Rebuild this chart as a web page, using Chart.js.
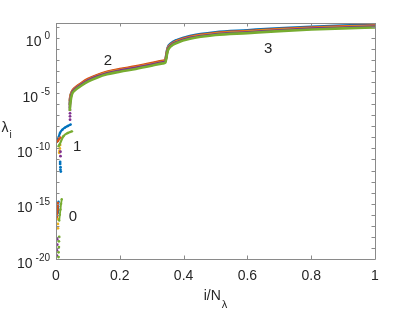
<!DOCTYPE html>
<html>
<head>
<meta charset="utf-8">
<script src="https://cdn.jsdelivr.net/npm/chart.js@4.4.1/dist/chart.umd.min.js"></script>
<style>
  html, body { margin: 0; background: #fff; }
  canvas { display: block; }
</style>
</head>
<body>
<canvas id="eig-chart" width="415" height="312"></canvas>
<script>
// sorted eigenvalues, 5 runs (matlab default colours)
const curveX = [0.043, 0.045, 0.05, 0.06, 0.08, 0.1, 0.13, 0.16, 0.2, 0.25, 0.3, 0.335, 0.343, 0.346, 0.35, 0.36, 0.38, 0.42, 0.5, 0.6, 0.7, 0.8, 0.9, 1.0];
const blueCurve   = [8.9e-7, 4.5e-6, 1.26e-5, 2.8e-5, 7.4e-5, 1.7e-4, 4.0e-4, 7.6e-4, 1.32e-3, 2.34e-3, 4.6e-3, 7.4e-3, 8.9e-3, 3.3e-2, 0.123, 0.31, 0.66, 1.48, 3.2, 4.9, 7.4, 10.2, 13.2, 15.8];
const orangeCurve = [2.0e-6, 5.0e-6, 1.41e-5, 3.16e-5, 8.3e-5, 1.9e-4, 4.5e-4, 8.5e-4, 1.48e-3, 2.63e-3, 5.2e-3, 8.3e-3, 1.0e-2, 2.75e-2, 0.103, 0.257, 0.55, 1.24, 2.7, 4.07, 6.17, 8.5, 11.0, 13.2];
const yellowCurve = [7.9e-7, 4.0e-6, 1.12e-5, 2.5e-5, 6.6e-5, 1.51e-4, 3.55e-4, 6.8e-4, 1.17e-3, 2.1e-3, 4.0e-3, 6.6e-3, 8.0e-3, 2.4e-2, 0.09, 0.224, 0.48, 1.08, 2.34, 3.55, 5.37, 7.4, 9.55, 11.5];
const purpleCurve = [4.0e-7, 2.5e-6, 1.05e-5, 2.34e-5, 6.2e-5, 1.41e-4, 3.3e-4, 6.3e-4, 1.1e-3, 1.95e-3, 3.8e-3, 6.1e-3, 7.4e-3, 2.2e-2, 0.082, 0.205, 0.436, 0.99, 2.14, 3.24, 4.9, 6.76, 8.7, 10.5];
const greenCurve  = [2.5e-7, 1.26e-6, 7.6e-6, 1.86e-5, 4.9e-5, 1.12e-4, 2.63e-4, 5.0e-4, 8.7e-4, 1.55e-3, 3.0e-3, 4.9e-3, 5.8e-3, 1.58e-2, 0.063, 0.17, 0.363, 0.82, 1.78, 2.69, 4.07, 5.62, 7.24, 8.7];

// group 1
const blueG1X = [0.004, 0.008, 0.0125, 0.02, 0.028, 0.037, 0.046];
const blueG1Y = [4.5e-10, 1e-9, 2.5e-9, 5e-9, 7.6e-9, 1.07e-8, 1.45e-8];
const orangeG1X = [0.003, 0.006, 0.01, 0.014];
const orangeG1Y = [4e-10, 5e-10, 7e-10, 1e-9];
const greenG1X = [0.008, 0.011, 0.023, 0.037, 0.05];
const greenG1Y = [1.6e-10, 2.2e-10, 1.26e-9, 2.5e-9, 3.5e-9];
const yellowG1X = [0.01, 0.011, 0.012, 0.013];
const yellowG1Y = [4e-11, 6e-11, 1e-10, 2e-10];
const purpleG1X = [0.014, 0.014];
const purpleG1Y = [2e-11, 5e-11];
const blueDotsX = [0.013, 0.013, 0.014, 0.014, 0.015];
const blueDotsY = [6e-12, 4e-12, 2e-12, 1.2e-12, 8e-13];

// group 0
const orangeG0X = [0.006, 0.005, 0.005, 0.004, 0.004, 0.003];
const orangeG0Y = [1.2e-15, 6e-16, 3e-16, 1.5e-16, 8e-17, 4e-17];
const greenG0X = [0.018, 0.016, 0.014, 0.012, 0.01];
const greenG0Y = [2.5e-15, 1e-15, 3e-16, 1e-16, 3e-17];
const blueG0X = [0.008, 0.007, 0.007, 0.006];
const blueG0Y = [1.5e-15, 6e-16, 2.5e-16, 1.5e-16];
const yellowG0X = [0.007, 0.006, 0.006];
const yellowG0Y = [4e-17, 1.5e-17, 6e-18];
const purpleG0X = [0.004, 0.004, 0.003, 0.003];
const purpleG0Y = [6e-19, 2e-19, 6e-20, 2e-20];
const greenLowX = [0.01, 0.009, 0.009, 0.008, 0.008];
const greenLowY = [1e-18, 4e-19, 1.2e-19, 4e-20, 1.5e-20];
const purpleTailX = [0.044, 0.044, 0.044, 0.044];
const purpleTailY = [3e-7, 1.5e-7, 8e-8, 4e-8];

const xTicks = [0, 0.2, 0.4, 0.6, 0.8, 1];
const xTickLabels = ["0", "0.2", "0.4", "0.6", "0.8", "1"];
const yDecades = [1e-20, 1e-19, 1e-18, 1e-17, 1e-16, 1e-15, 1e-14, 1e-13, 1e-12, 1e-11, 1e-10, 1e-9, 1e-8, 1e-7, 1e-6, 1e-5, 1e-4, 1e-3, 1e-2, 1e-1, 1, 10];
const yLabelValues = [1e-20, 1e-15, 1e-10, 1e-5, 1];
const yLabelExps = ["-20", "-15", "-10", "-5", "0"];
const groupLabels = ["0", "1", "2", "3"];
const groupLabelX = [0.053, 0.066, 0.163, 0.665];
const groupLabelY = [6e-17, 1.3e-10, 8e-3, 0.1];

const BLUE = "#0072BD", ORANGE = "#D95319", YELLOW = "#EDB120", PURPLE = "#7E2F8E", GREEN = "#77AC30";
const TXT = "#262626";
const FONT = "'Liberation Sans', Arial, Helvetica, sans-serif";

const pts = (xs, ys) => xs.map((x, i) => ({ x, y: ys[i] }));
const curve = (color, ys, order) => ({
  data: pts(curveX, ys), showLine: true, borderColor: color, borderWidth: 2.6,
  pointRadius: 0, cubicInterpolationMode: "monotone", order
});
const line = (color, xs, ys, order, w = 2.2) => ({
  data: pts(xs, ys), showLine: true, borderColor: color, borderWidth: w,
  pointRadius: 1.2, pointBackgroundColor: color, pointBorderWidth: 0, cubicInterpolationMode: "monotone", order
});
const dots = (color, xs, ys, order) => ({
  data: pts(xs, ys), showLine: false, pointRadius: 1.4, pointBackgroundColor: color,
  pointBorderWidth: 0, order
});

const frame = {
  id: "frame",
  afterDraw(chart) {
    const { ctx, chartArea: a, scales: { x, y } } = chart;
    ctx.save();
    ctx.strokeStyle = "#8a8a8a";
    ctx.lineWidth = 1;
    ctx.beginPath();
    ctx.rect(Math.round(a.left) + 0.5, Math.round(a.top) + 0.5, Math.round(a.right - a.left), Math.round(a.bottom - a.top));
    yDecades.forEach((v) => {
      const py = Math.round(y.getPixelForValue(v)) + 0.5;
      ctx.moveTo(a.left, py); ctx.lineTo(a.left + 3.5, py);
      ctx.moveTo(a.right, py); ctx.lineTo(a.right - 3.5, py);
    });
    xTicks.forEach((v) => {
      const px = Math.round(x.getPixelForValue(v)) + 0.5;
      ctx.moveTo(px, a.bottom); ctx.lineTo(px, a.bottom - 3.5);
      ctx.moveTo(px, a.top); ctx.lineTo(px, a.top + 3.5);
    });
    ctx.stroke();

    ctx.fillStyle = TXT;
    ctx.textBaseline = "alphabetic";
    // x tick labels
    ctx.font = "14px " + FONT;
    ctx.textAlign = "center";
    xTicks.forEach((v, i) => ctx.fillText(xTickLabels[i], x.getPixelForValue(v), a.bottom + 21));
    // y tick labels 10^n
    ctx.textAlign = "right";
    yLabelValues.forEach((v, i) => {
      const py = y.getPixelForValue(v);
      ctx.font = "10px " + FONT;
      const w = ctx.measureText(yLabelExps[i]).width;
      ctx.fillText(yLabelExps[i], a.left - 6, py + 1.5);
      ctx.font = "14px " + FONT;
      ctx.fillText("10", a.left - 6 - w - 3, py + 8.5);
    });
    // group labels
    ctx.font = "15px " + FONT;
    ctx.textAlign = "center";
    ctx.textBaseline = "middle";
    groupLabels.forEach((t, i) => ctx.fillText(t, x.getPixelForValue(groupLabelX[i]), y.getPixelForValue(groupLabelY[i])));
    // axis titles
    ctx.textBaseline = "alphabetic";
    ctx.textAlign = "left";
    ctx.font = "14px " + FONT;
    const xt = "i/N", xw = ctx.measureText(xt).width;
    ctx.font = "11px " + FONT;
    const sw = ctx.measureText("\u03bb").width;
    const x0 = (a.left + a.right) / 2 - (xw + sw + 1) / 2;
    ctx.font = "14px " + FONT;
    ctx.fillText(xt, x0, a.bottom + 41);
    ctx.font = "11px " + FONT;
    ctx.fillText("\u03bb", x0 + xw + 1, a.bottom + 49);
    ctx.font = "14px " + FONT;
    ctx.fillText("\u03bb", 1.5, 132);
    ctx.font = "10px " + FONT;
    ctx.fillText("i", 9.5, 138);
    ctx.restore();
  }
};

new Chart(document.getElementById("eig-chart"), {
  type: "scatter",
  data: {
    datasets: [
      curve(BLUE, blueCurve, 5), curve(ORANGE, orangeCurve, 4), curve(YELLOW, yellowCurve, 3),
      curve(PURPLE, purpleCurve, 2), curve(GREEN, greenCurve, 1),
      line(BLUE, blueG1X, blueG1Y, 5), line(ORANGE, orangeG1X, orangeG1Y, 4),
      dots(YELLOW, yellowG1X, yellowG1Y, 3), dots(PURPLE, purpleG1X, purpleG1Y, 2),
      line(GREEN, greenG1X, greenG1Y, 1), dots(BLUE, blueDotsX, blueDotsY, 5),
      line(BLUE, blueG0X, blueG0Y, 5, 1.8), line(ORANGE, orangeG0X, orangeG0Y, 4, 1.8),
      dots(YELLOW, yellowG0X, yellowG0Y, 3), dots(PURPLE, purpleG0X, purpleG0Y, 2),
      line(GREEN, greenG0X, greenG0Y, 1, 1.8), dots(GREEN, greenLowX, greenLowY, 1),
      dots(PURPLE, purpleTailX, purpleTailY, 2)
    ]
  },
  options: {
    responsive: false,
    animation: false,
    devicePixelRatio: 1,
    layout: { padding: { left: 56, top: 23, right: 40, bottom: 53 } },
    plugins: { legend: { display: false }, tooltip: { enabled: false } },
    scales: {
      x: { type: "linear", min: 0, max: 1, display: false },
      y: { type: "logarithmic", min: 1e-20, max: 22, display: false }
    }
  },
  plugins: [frame]
});
</script>
</body>
</html>
